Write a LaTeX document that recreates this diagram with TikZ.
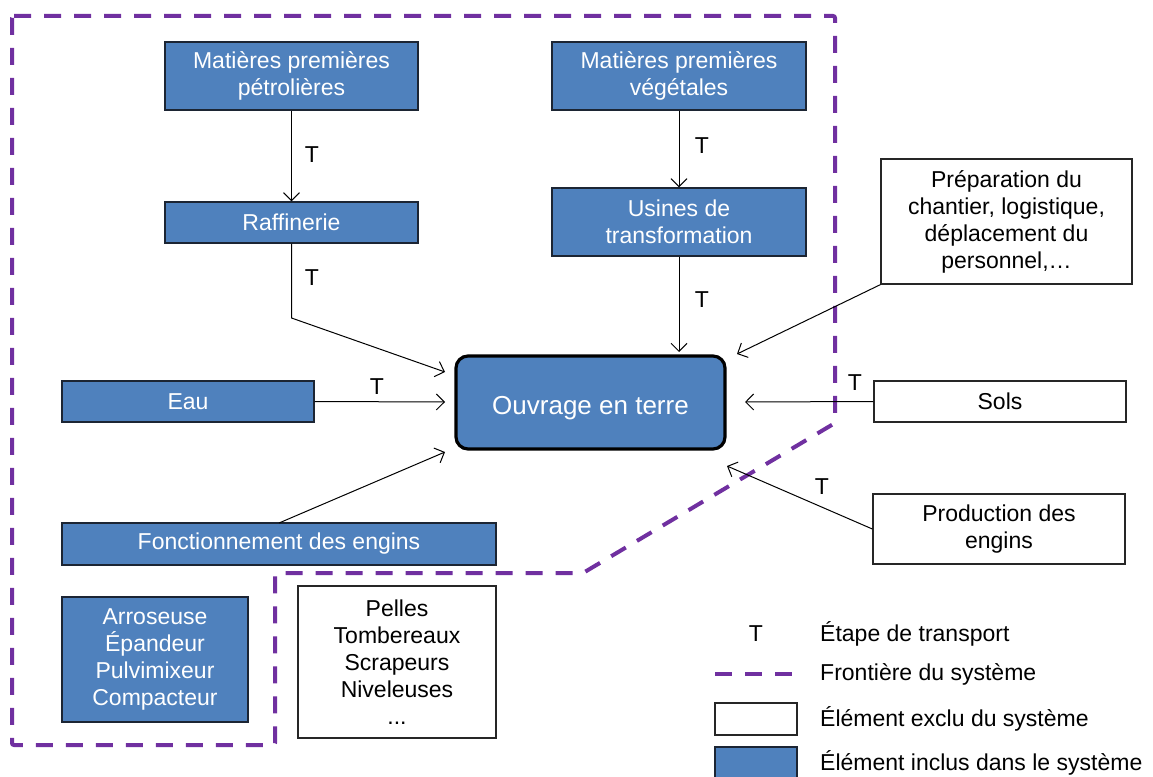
\documentclass[tikz,border=0pt]{standalone}
\usepackage{fontspec}
\setmainfont{Liberation Sans}
\usetikzlibrary{arrows.meta}
\definecolor{boxblue}{HTML}{4F81BD}
\definecolor{boxedge}{HTML}{1C2533}
\definecolor{bound}{HTML}{7030A0}
\begin{document}
\begin{tikzpicture}[x=1pt,y=-1pt,
  txt/.style={font=\fontsize{23}{27}\selectfont},
  inbox/.style={txt, draw=boxedge, line width=1.3pt, fill=boxblue, text=white, align=center, inner sep=0pt},
  exbox/.style={txt, draw=black!85, line width=1.3pt, fill=white, align=center, inner sep=0pt},
  flow/.style={draw=black, line width=1pt, -{Straight Barb[length=8pt,width=16pt,line width=1pt]}},
  tlab/.style={txt, inner sep=0pt},
  boundary/.style={draw=bound, line width=4pt, dash pattern=on 17pt off 13pt}]
\useasboundingbox (0,0) rectangle (1153,776);

% boundary
\draw[boundary, rounded corners=2pt] (12,16) -- (835,16) -- (835,423) -- (583,573) -- (275,573) -- (275,745) -- (12,745) -- cycle;

% included elements
\node[inbox, minimum width=253, minimum height=68] (mpp) at (291.5,76) {Matières premières\\pétrolières};
\node[inbox, minimum width=254, minimum height=68] (mpv) at (679,76) {Matières premières\\végétales};
\node[inbox, minimum width=253, minimum height=41] (raf) at (291.5,222.5) {Raffinerie};
\node[inbox, minimum width=254, minimum height=68] (usi) at (679,222) {Usines de\\transformation};
\node[inbox, minimum width=252, minimum height=41] (eau) at (188,401.5) {Eau};
\node[inbox, minimum width=434, minimum height=42] (fon) at (279,544) {Fonctionnement des engins};
\node[inbox, minimum width=186, minimum height=125] (arr) at (155,659.5) {Arroseuse\\Épandeur\\Pulvimixeur\\Compacteur};
\node[inbox, draw=black, line width=3.2pt, rounded corners=12pt, minimum width=269, minimum height=93,
      font=\fontsize{26}{30}\selectfont, text height=23pt, text depth=0pt] (ouv) at (590.5,402.5) {Ouvrage en terre};

% excluded elements
\node[exbox, minimum width=251, minimum height=125] (pre) at (1006.5,221.5) {Préparation du\\chantier, logistique,\\déplacement du\\personnel,\dots};
\node[exbox, minimum width=252, minimum height=41] (sol) at (1000,401.5) {Sols};
\node[exbox, minimum width=252, minimum height=70] (pro) at (999,529) {Production des\\engins};
\node[exbox, minimum width=198, minimum height=152] (pel) at (397,662) {Pelles\\Tombereaux\\Scrapeurs\\Niveleuses\\...};

% connector end points
\coordinate (rafbend) at (291.5,318);
\coordinate (tipraf) at (445,372);
\coordinate (tipusi) at (679,352);
\coordinate (tippre) at (737,354);
\coordinate (tipeau) at (445,402);
\coordinate (tipsol) at (745,402);
\coordinate (fonstart) at (279,523);
\coordinate (tipfon) at (445,452);
\coordinate (tippro) at (727,466);

% connectors
\draw[flow] (mpp.south) -- (raf.north);
\draw[flow] (mpv.south) -- (usi.north);
\draw[flow] (raf.south) -- (rafbend) -- (tipraf);
\draw[flow] (usi.south) -- (tipusi);
\draw[flow] (pre.south west) -- (tippre);
\draw[flow] (eau.east) -- (tipeau);
\draw[flow] (sol.west) -- (tipsol);
\draw[flow] (fonstart) -- (tipfon);
\draw[flow] (pro.west) -- (tippro);

% T labels
\node[tlab] (t1) at (312,155) {T};
\node[tlab] (t2) at (702,146) {T};
\node[tlab] (t3) at (312,278) {T};
\node[tlab] (t4) at (702,300) {T};
\node[tlab] (t5) at (377,387) {T};
\node[tlab] (t6) at (855,383) {T};
\node[tlab] (t7) at (822,487) {T};

% legend
\node[tlab] (lt) at (756,634) {T};
\node[txt, anchor=west, inner sep=0pt] (ltx) at (820,634) {Étape de transport};
\coordinate (lda) at (715,674);
\coordinate (ldb) at (794,674);
\draw[boundary] (lda) -- (ldb);
\node[txt, anchor=west, inner sep=0pt] (ldx) at (820,674) {Frontière du système};
\node[exbox, minimum width=82, minimum height=32] (lex) at (756,719) {};
\node[txt, anchor=west, inner sep=0pt] (lexx) at (820,719) {Élément exclu du système};
\node[inbox, minimum width=82, minimum height=34] (lin) at (756,764) {};
\node[txt, anchor=west, inner sep=0pt] (linx) at (820,763) {Élément inclus dans le système};
\end{tikzpicture}
\end{document}
